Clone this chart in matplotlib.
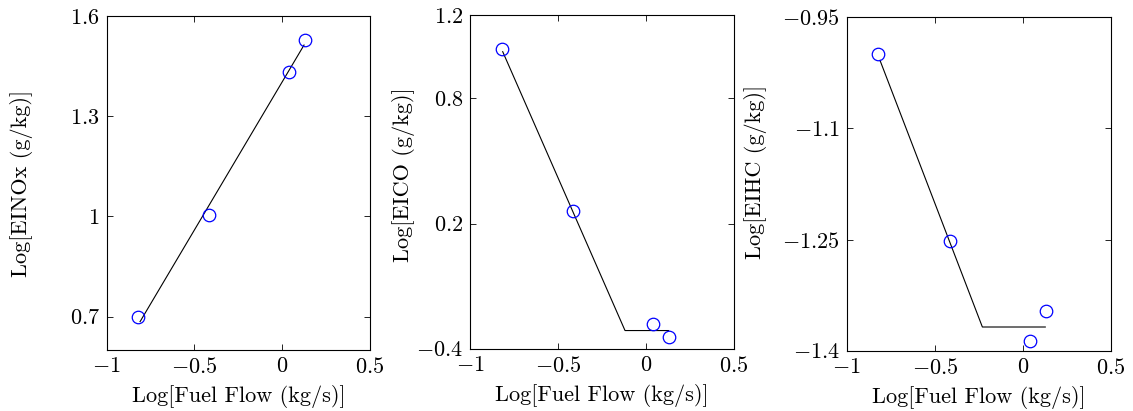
import matplotlib
matplotlib.use("Agg")
import matplotlib.pyplot as plt

plt.rcParams['font.family'] = 'cmr10'
plt.rcParams['mathtext.fontset'] = 'cm'
plt.rcParams['axes.formatter.use_mathtext'] = True
plt.rcParams['font.size'] = 16

# measured points (log fuel flow vs log emission index)
fuel_flow = [-0.82, -0.416, 0.038, 0.129]
ei_nox = [0.70, 1.005, 1.433, 1.528]
ei_co = [1.038, 0.259, -0.281, -0.345]
ei_hc = [-1.000, -1.252, -1.387, -1.347]

# fitted lines (breakpoints)
nox_fit_x = [-0.81, 0.124]
nox_fit_y = [0.685, 1.513]
co_fit_x = [-0.814, -0.119, 0.129]
co_fit_y = [1.024, -0.313, -0.313]
hc_fit_x = [-0.811, -0.230, 0.127]
hc_fit_y = [-1.008, -1.368, -1.368]

x_ticks = [-1, -0.5, 0, 0.5]
x_labels = ['$-1$', '$-0.5$', '$0$', '$0.5$']

panels = [
    dict(pos=[0.0942, 0.1484, 0.2324, 0.8127], y=ei_nox, fx=nox_fit_x, fy=nox_fit_y,
         ylim=(0.6, 1.6), yticks=[0.7, 1, 1.3, 1.6],
         ylabels=['$0.7$', '$1$', '$1.3$', '$1.6$'], ylabel='Log[EINOx (g/kg)]',
         label_xy=(-0.280, 0.50)),
    dict(pos=[0.4148, 0.1516, 0.2330, 0.8120], y=ei_co, fx=co_fit_x, fy=co_fit_y,
         ylim=(-0.4, 1.2), yticks=[-0.4, 0.2, 0.8, 1.2],
         ylabels=['$-0.4$', '$0.2$', '$0.8$', '$1.2$'], ylabel='Log[EICO (g/kg)]',
         label_xy=(-0.208, 0.52)),
    dict(pos=[0.7473, 0.1467, 0.2333, 0.8110], y=ei_hc, fx=hc_fit_x, fy=hc_fit_y,
         ylim=(-1.4, -0.95), yticks=[-1.4, -1.25, -1.1, -0.95],
         ylabels=['$-1.4$', '$-1.25$', '$-1.1$', '$-0.95$'], ylabel='Log[EIHC (g/kg)]',
         label_xy=(-0.302, 0.537)),
]

fig = plt.figure(figsize=(11.33, 4.11), dpi=100)

for p in panels:
    ax = fig.add_axes(p['pos'])
    ax.plot(p['fx'], p['fy'], color='black', linewidth=0.8)
    ax.plot(fuel_flow, p['y'], linestyle='none', marker='o', markersize=9,
            markerfacecolor='none', markeredgecolor='#0000ff', markeredgewidth=0.9)
    ax.set_xlim(-1, 0.5)
    ax.set_ylim(*p['ylim'])
    ax.set_xticks(x_ticks)
    ax.set_xticklabels(x_labels)
    ax.set_yticks(p['yticks'])
    ax.set_yticklabels(p['ylabels'])
    ax.tick_params(direction='in', top=True, right=True, length=4, width=0.6, labelsize=16, pad=5)
    for s in ax.spines.values():
        s.set_linewidth(0.8)
    ax.set_xlabel('Log[Fuel Flow (kg/s)]', fontsize=16, labelpad=6)
    ax.set_ylabel(p['ylabel'], fontsize=16)
    ax.yaxis.set_label_coords(*p['label_xy'])

fig.savefig('out.png', dpi=100)
